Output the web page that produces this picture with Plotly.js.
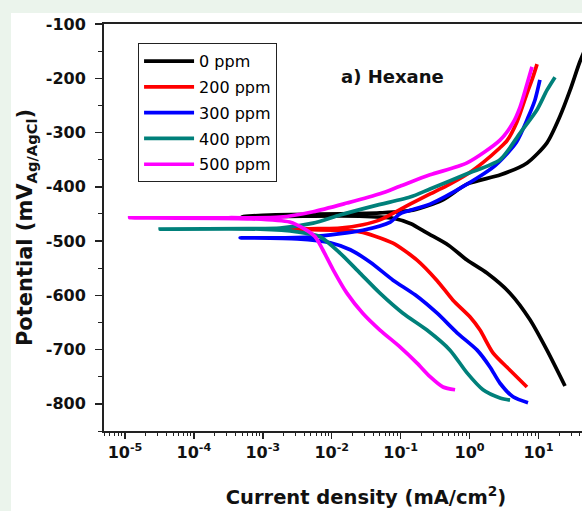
<!DOCTYPE html>
<html>
<head>
<meta charset="utf-8">
<script src="https://cdn.plot.ly/plotly-3.0.1.min.js"></script>
<style>
  html, body { margin: 0; padding: 0; background: #ebf4ec; overflow: hidden; width: 582px; height: 511px; }
  #chart { position: absolute; left: 11px; top: 13px; width: 640px; height: 498px; }
</style>
</head>
<body>
<div id="chart"></div>
<script>
// Series names
const seriesNames = ['0 ppm', '200 ppm', '300 ppm', '400 ppm', '500 ppm'];

// Current density (mA/cm^2) and potential (mV vs Ag/AgCl).
// Each curve: cathodic branch (from its end up to Ecorr), the low-current tip, then the anodic branch.
const i0 = [24.3, 13.3, 7.55, 3.87, 1.79, 0.92, 0.501, 0.241, 0.141, 0.0776, 0.0251, 0.00398, 0.000501,
            0.00126, 0.0501, 0.151, 0.398, 0.92, 2.82, 6.84, 13.3, 20.4, 28.8, 39.8, 50.1];
const e0 = [-767, -701, -645, -596, -559, -535, -508, -485, -468, -458, -454, -454, -455,
            -452, -448, -443, -425, -395, -378, -356, -319, -271, -222, -170, -140];

const i200 = [6.82, 3.87, 2.19, 1.42, 1.02, 0.575, 0.339, 0.173, 0.0776, 0.0427, 0.0257, 0.0132, 0.00501, 0.00209,
              0.00631, 0.0132, 0.0282, 0.0501, 0.0977, 0.137, 0.251, 0.471, 0.92, 1.58, 2.77, 3.50, 4.89, 6.82, 8.32, 9.55];
const e200 = [-769, -738, -706, -664, -640, -609, -573, -535, -504, -491, -483, -480, -479, -478,
              -477, -476, -470, -461, -442, -432, -415, -398, -377, -355, -328, -315, -280, -228, -198, -174];

const i300 = [7.06, 4.28, 2.77, 1.98, 1.29, 0.659, 0.339, 0.162, 0.0776, 0.0363, 0.0186, 0.00955, 0.00316, 0.000468,
              0.00158, 0.00537, 0.0282, 0.0708, 0.0977, 0.267, 0.871, 2.40, 4.79, 7.08, 8.91, 10.5];
const e300 = [-798, -787, -762, -732, -701, -669, -633, -599, -572, -539, -516, -503, -496, -494,
              -494, -492, -480, -465, -450, -432, -397, -360, -318, -272, -240, -203];

const i400 = [3.87, 2.77, 1.57, 0.92, 0.521, 0.241, 0.108, 0.0501, 0.0257, 0.0132, 0.00676, 0.00316, 0.000912, 0.0000324,
              0.000631, 0.00178, 0.00537, 0.0132, 0.0363, 0.137, 0.267, 0.92, 2.77, 5.41, 9.55, 13.3, 17.4];
const e400 = [-793, -789, -774, -743, -701, -664, -633, -596, -559, -522, -492, -483, -478, -478,
              -477, -476, -467, -452, -437, -419, -404, -376, -350, -301, -258, -222, -198];

const i500 = [0.617, 0.412, 0.267, 0.173, 0.0977, 0.0501, 0.0282, 0.0166, 0.0105, 0.00741, 0.00575, 0.00407, 0.00245, 0.000646, 0.0000117,
              0.000316, 0.00178, 0.00537, 0.0166, 0.0501, 0.0977, 0.267, 0.92, 2.77, 4.28, 5.41, 6.82, 8.07];
const e500 = [-774, -769, -750, -725, -695, -664, -633, -596, -553, -516, -492, -478, -465, -459, -457,
              -457, -456, -446, -430, -413, -399, -378, -356, -314, -282, -253, -211, -179];

const seriesColors = ['#000000', '#ff0000', '#0000ff', '#00807a', '#ff00ff'];

// Axis ticks
const yTickVals = [-800, -700, -600, -500, -400, -300, -200, -100];
const yTickText = ['-800', '-700', '-600', '-500', '-400', '-300', '-200', '-100'];
const xTickVals = [1e-5, 1e-4, 1e-3, 1e-2, 1e-1, 1, 10];
const xTickText = ['10<sup>-5</sup>', '10<sup>-4</sup>', '10<sup>-3</sup>', '10<sup>-2</sup>', '10<sup>-1</sup>', '10<sup>0</sup>', '10<sup>1</sup>'];

const xs = [i0, i200, i300, i400, i500];
const ys = [e0, e200, e300, e400, e500];

const traces = seriesNames.map((name, k) => ({
  type: 'scatter',
  mode: 'lines',
  name: name,
  legendgroup: 'g' + k,
  x: xs[k],
  y: ys[k],
  line: { color: seriesColors[k], width: 3.7, shape: 'spline', smoothing: 0.7 }
}));

const tickFont = { family: 'DejaVu Sans', size: 16, color: '#111', weight: 'bold' };

const layout = {
  width: 640,
  height: 498,
  margin: { l: 93, r: 23, t: 11, b: 80 },
  paper_bgcolor: '#ffffff',
  plot_bgcolor: '#ffffff',
  showlegend: true,
  legend: {
    x: 0.065, y: 0.953, xanchor: 'left', yanchor: 'top',
    bgcolor: '#ffffff', bordercolor: '#222', borderwidth: 1,
    font: { family: 'DejaVu Sans', size: 16, color: '#000' },
    itemwidth: 50,
    tracegroupgap: 2
  },
  xaxis: {
    type: 'log',
    range: [-5.305, 2.30],
    tickvals: xTickVals,
    ticktext: xTickText,
    showgrid: false,
    zeroline: false,
    showline: true, linecolor: '#222', linewidth: 2, mirror: true,
    ticks: 'outside', ticklen: 6, tickwidth: 1.5, tickcolor: '#222',
    minor: { ticks: 'outside', ticklen: 3, tickwidth: 1, tickcolor: '#222', dtick: 'D1', showgrid: false },
    tickfont: tickFont,
    title: { text: 'Current density (mA/cm<sup>2</sup>)', font: { family: 'DejaVu Sans', size: 19.5, color: '#111', weight: 'bold' }, standoff: 29 }
  },
  yaxis: {
    range: [-850, -100],
    tickvals: yTickVals,
    ticktext: yTickText,
    showgrid: false,
    zeroline: false,
    showline: true, linecolor: '#222', linewidth: 2, mirror: true,
    ticks: 'outside', ticklen: 7, tickwidth: 1.5, tickcolor: '#222',
    ticklabelstandoff: 6,
    minor: { ticks: 'outside', ticklen: 4, tickwidth: 1, tickcolor: '#222', dtick: 50, showgrid: false },
    tickfont: tickFont,
    title: { text: 'Potential (mV<sub>Ag/AgCl</sub>)', font: { family: 'DejaVu Sans', size: 21, color: '#111', weight: 'bold' }, standoff: 7 }
  },
  annotations: [{
    xref: 'paper', yref: 'paper', x: 0.5515, y: 0.87,
    xanchor: 'center', yanchor: 'middle', showarrow: false,
    text: 'a) Hexane',
    font: { family: 'DejaVu Sans', size: 18, color: '#111', weight: 'bold' }
  }]
};

Plotly.newPlot('chart', traces, layout, { staticPlot: true, displayModeBar: false });
</script>
</body>
</html>
